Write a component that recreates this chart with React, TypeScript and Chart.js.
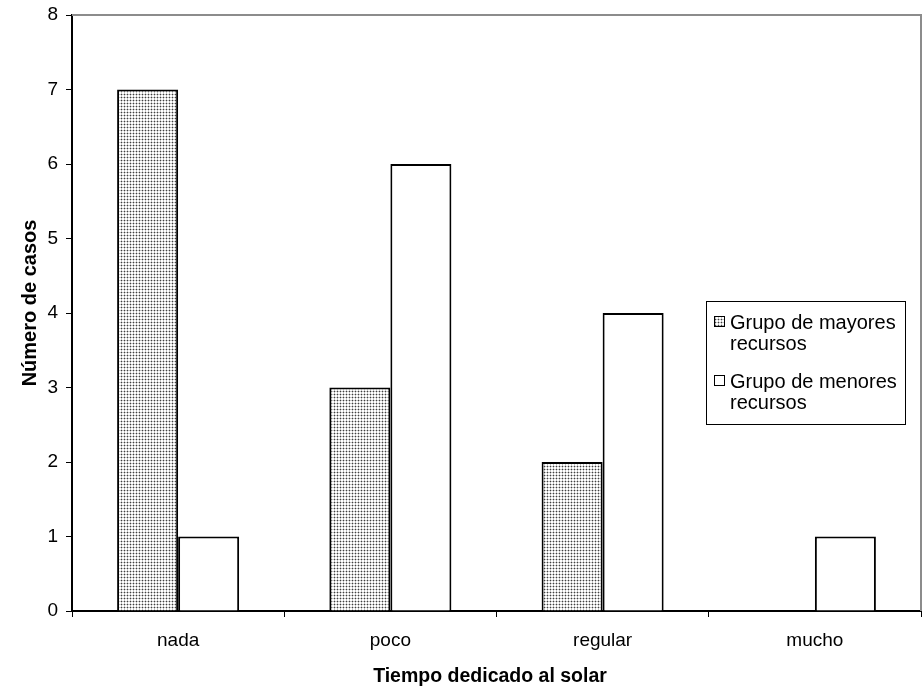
import { useEffect, useRef } from "react";
import { Chart, registerables } from "chart.js";

Chart.register(...registerables);

const categories = ["nada", "poco", "regular", "mucho"];
const seriesLabels = ["Grupo de mayores recursos", "Grupo de menores recursos"];
const legendLines = [["Grupo de mayores", "recursos"], ["Grupo de menores", "recursos"]];
const mayores = [7, 3, 2, 0];
const menores = [1, 6, 4, 1];
const yTicks = [0, 1, 2, 3, 4, 5, 6, 7, 8];
const xTitle = "Tiempo dedicado al solar";
const yTitle = "Número de casos";

function makePattern(): CanvasPattern | string {
  const c = document.createElement("canvas");
  c.width = 3;
  c.height = 3;
  const g = c.getContext("2d");
  if (!g) return "#cccccc";
  g.fillStyle = "#ffffff";
  g.fillRect(0, 0, 3, 3);
  g.fillStyle = "#c4c4c4";
  g.fillRect(0, 1, 3, 1);
  g.fillRect(1, 0, 1, 3);
  g.fillStyle = "#404040";
  g.fillRect(1, 1, 1, 1);
  const p = g.createPattern(c, "repeat");
  return p || "#cccccc";
}

export default function App() {
  const ref = useRef<HTMLCanvasElement>(null);
  useEffect(() => {
    document.body.style.margin = "0";
    const canvas = ref.current;
    if (!canvas) return;
    const pattern = makePattern();
    const font = "'Liberation Sans', Arial, sans-serif";

    const framePlugin = {
      id: "frame",
      beforeDatasetsDraw(chart: any) {
        const { ctx, chartArea } = chart;
        ctx.save();
        ctx.strokeStyle = "#8c8c8c";
        ctx.lineWidth = 2;
        ctx.beginPath();
        ctx.moveTo(chartArea.left, chartArea.top);
        ctx.lineTo(chartArea.right, chartArea.top);
        ctx.lineTo(chartArea.right, chartArea.bottom);
        ctx.stroke();
        ctx.restore();
      },
    };

    const textPlugin = {
      id: "texts",
      afterDraw(chart: any) {
        const { ctx, chartArea } = chart;
        ctx.save();
        // axis titles
        ctx.fillStyle = "#000000";
        ctx.font = "bold 19.5px " + font;
        ctx.textAlign = "center";
        ctx.textBaseline = "alphabetic";
        ctx.fillText(xTitle, 490, 682);
        ctx.save();
        ctx.font = "bold 20px " + font;
        ctx.translate(36, 303);
        ctx.rotate(-Math.PI / 2);
        ctx.fillText(yTitle, 0, 0);
        ctx.restore();

        // legend
        const x0 = chartArea.right - 215;
        const y0 = 301;
        const w = 199;
        const h = 123;
        ctx.fillStyle = "#ffffff";
        ctx.fillRect(x0, y0, w, h);
        ctx.strokeStyle = "#000000";
        ctx.lineWidth = 1;
        ctx.strokeRect(x0 + 0.5, y0 + 0.5, w, h);
        ctx.font = "20px " + font;
        ctx.textAlign = "left";
        ctx.textBaseline = "alphabetic";
        const fills = [pattern, "#ffffff"];
        for (let i = 0; i < legendLines.length; i++) {
          const base = y0 + 28 + i * 59;
          ctx.fillStyle = fills[i];
          ctx.fillRect(x0 + 8, base - 13, 10, 10);
          ctx.strokeStyle = "#000000";
          ctx.strokeRect(x0 + 8.5, base - 12.5, 10, 10);
          ctx.fillStyle = "#000000";
          ctx.fillText(legendLines[i][0], x0 + 24, base);
          ctx.fillText(legendLines[i][1], x0 + 24, base + 21);
        }
        ctx.restore();
      },
    };

    const chart = new Chart(canvas, {
      type: "bar",
      data: {
        labels: categories,
        datasets: [
          {
            label: seriesLabels[0],
            data: mayores,
            backgroundColor: pattern as any,
            borderColor: "#000000",
            borderWidth: 2,
            borderSkipped: "bottom",
            categoryPercentage: 0.575,
            barPercentage: 1,
          },
          {
            label: seriesLabels[1],
            data: menores,
            backgroundColor: "#ffffff",
            borderColor: "#000000",
            borderWidth: 2,
            borderSkipped: "bottom",
            categoryPercentage: 0.575,
            barPercentage: 1,
          },
        ],
      },
      options: {
        animation: false,
        responsive: false,
        layout: { padding: { top: 15, right: 3, bottom: 0, left: 0 } },
        plugins: { legend: { display: false }, tooltip: { enabled: false } },
        scales: {
          x: {
            offset: true,
            grid: {
              offset: true,
              drawOnChartArea: false,
              drawTicks: true,
              tickLength: 6,
              color: "#000000",
            },
            border: { color: "#000000", width: 2 },
            ticks: { color: "#000000", font: { family: font, size: 19 }, padding: 12 },
            afterFit(scale: any) {
              scale.height = 85;
              scale.paddingLeft = 0;
              scale.paddingRight = 0;
            },
          },
          y: {
            min: 0,
            max: 8,
            afterBuildTicks(scale: any) {
              scale.ticks = yTicks.map((v) => ({ value: v }));
            },
            grid: {
              drawOnChartArea: false,
              drawTicks: true,
              tickLength: 6,
              color: "#000000",
            },
            border: { color: "#000000", width: 2 },
            ticks: { color: "#000000", font: { family: font, size: 19 }, padding: 8 },
            afterFit(scale: any) {
              scale.width = 72;
              scale.paddingTop = 0;
              scale.paddingBottom = 0;
            },
          },
        },
      },
      plugins: [framePlugin, textPlugin],
    });
    return () => chart.destroy();
  }, []);
  return <canvas ref={ref} width={924} height={696} style={{ display: "block" }} />;
}
